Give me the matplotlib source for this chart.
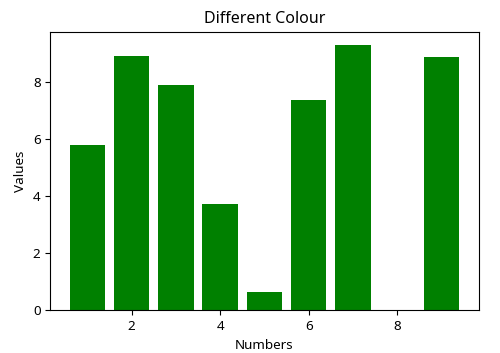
import matplotlib
matplotlib.use("Agg")
import matplotlib.pyplot as plt

numbers = [1, 2, 3, 4, 5, 6, 7, 8, 9]
values = [5.78, 8.91, 7.89, 3.73, 0.63, 7.35, 9.29, 0.0, 8.87]

plt.rcParams['font.family'] = ['Noto Sans', 'DejaVu Sans']
fig = plt.figure(figsize=(5.0, 3.53), dpi=100)
ax = fig.add_axes([0.1006, 0.121, 0.8564, 0.789])
ax.bar(numbers, values, color='green', width=0.8)
ax.set_title('Different Colour', fontsize=11.5)
ax.set_xlabel('Numbers', fontsize=9.7)
ax.set_ylabel('Values', fontsize=9.7)
ax.tick_params(labelsize=9.7)
fig.savefig('out.png', dpi=100)
